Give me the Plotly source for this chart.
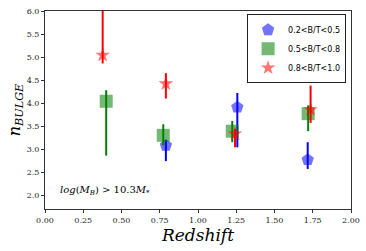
import plotly.graph_objects as go

# Data
low_z = [0.79, 1.257, 1.717]
low_n = [3.08, 3.91, 2.77]
low_up = [0.12, 0.31, 0.38]
low_dn = [0.34, 0.87, 0.20]

mid_z = [0.40, 0.773, 1.224, 1.72]
mid_n = [4.04, 3.30, 3.39, 3.77]
mid_up = [0.24, 0.24, 0.22, 0.18]
mid_dn = [1.18, 0.22, 0.24, 0.38]

high_z = [0.377, 0.79, 1.242, 1.736]
high_n = [5.04, 4.42, 3.33, 3.86]
high_up = [1.2, 0.23, 0.11, 0.52]
high_dn = [0.18, 0.32, 0.29, 0.29]

names = ["0.2<B/T<0.5", "0.5<B/T<0.8", "0.8<B/T<1.0"]

x_ticks = [0.0, 0.25, 0.5, 0.75, 1.0, 1.25, 1.5, 1.75, 2.0]
y_ticks = [2.0, 2.5, 3.0, 3.5, 4.0, 4.5, 5.0, 5.5, 6.0]

series = [
    (low_z, low_n, low_up, low_dn, "blue", "pentagon", 13, names[0]),
    (mid_z, mid_n, mid_up, mid_dn, "green", "square", 13, names[1]),
    (high_z, high_n, high_up, high_dn, "red", "star", 11, names[2]),
]

fig = go.Figure()
for xs, ys, up, dn, col, sym, sz, nm in series:
    fig.add_trace(go.Scatter(
        x=xs, y=ys, mode="markers", name=nm,
        marker=dict(symbol=sym, size=sz, color=col, opacity=0.55, line=dict(width=0)),
        error_y=dict(type="data", symmetric=False, array=up, arrayminus=dn,
                     color=col, thickness=2, width=0),
        cliponaxis=True,
    ))

serif = "DejaVu Serif"
fig.update_layout(
    width=366, height=251,
    margin=dict(l=45, r=15, t=11, b=42, autoexpand=False),
    paper_bgcolor="white", plot_bgcolor="white",
    showlegend=True,
    legend=dict(x=0.984, y=0.983, xanchor="right", yanchor="top",
                bgcolor="white", bordercolor="#222", borderwidth=1,
                font=dict(family="DejaVu Sans", size=8, color="black"),
                itemsizing="trace", itemwidth=30, tracegroupgap=0),
    xaxis=dict(range=[0, 2.0], tickvals=x_ticks, ticktext=[f"{v:.2f}" for v in x_ticks],
               ticks="outside", ticklen=3, tickwidth=1, tickcolor="#333",
               showline=True, linecolor="#333", linewidth=1, mirror=True,
               showgrid=False, zeroline=False, automargin=False,
               tickfont=dict(family=serif, size=8, color="#222"),
               title=dict(text="<i>Redshift</i>", font=dict(family=serif, size=17, color="black"),
                          standoff=4)),
    yaxis=dict(range=[1.7, 6.0], tickvals=y_ticks, ticktext=[f"{v:.1f}" for v in y_ticks],
               ticks="outside", ticklen=3, tickwidth=1, tickcolor="#333",
               showline=True, linecolor="#333", linewidth=1, mirror=True,
               showgrid=False, zeroline=False, automargin=False,
               tickfont=dict(family=serif, size=8, color="#222"),
               title=dict(text="<i>n</i><sub><i>BULGE</i></sub>", font=dict(family=serif, size=16, color="black"),
                          standoff=2)),
    annotations=[dict(x=0.39, y=2.1, xref="x", yref="y", showarrow=False,
                      text="<i>log</i>(<i>M</i><sub><i>B</i></sub>) &gt; 10.3<i>M</i><sub>*</sub>",
                      font=dict(family=serif, size=10, color="black"))],
)

fig.write_html("out.html", config={"displayModeBar": False},
               post_script="document.body.style.margin='0px';")
